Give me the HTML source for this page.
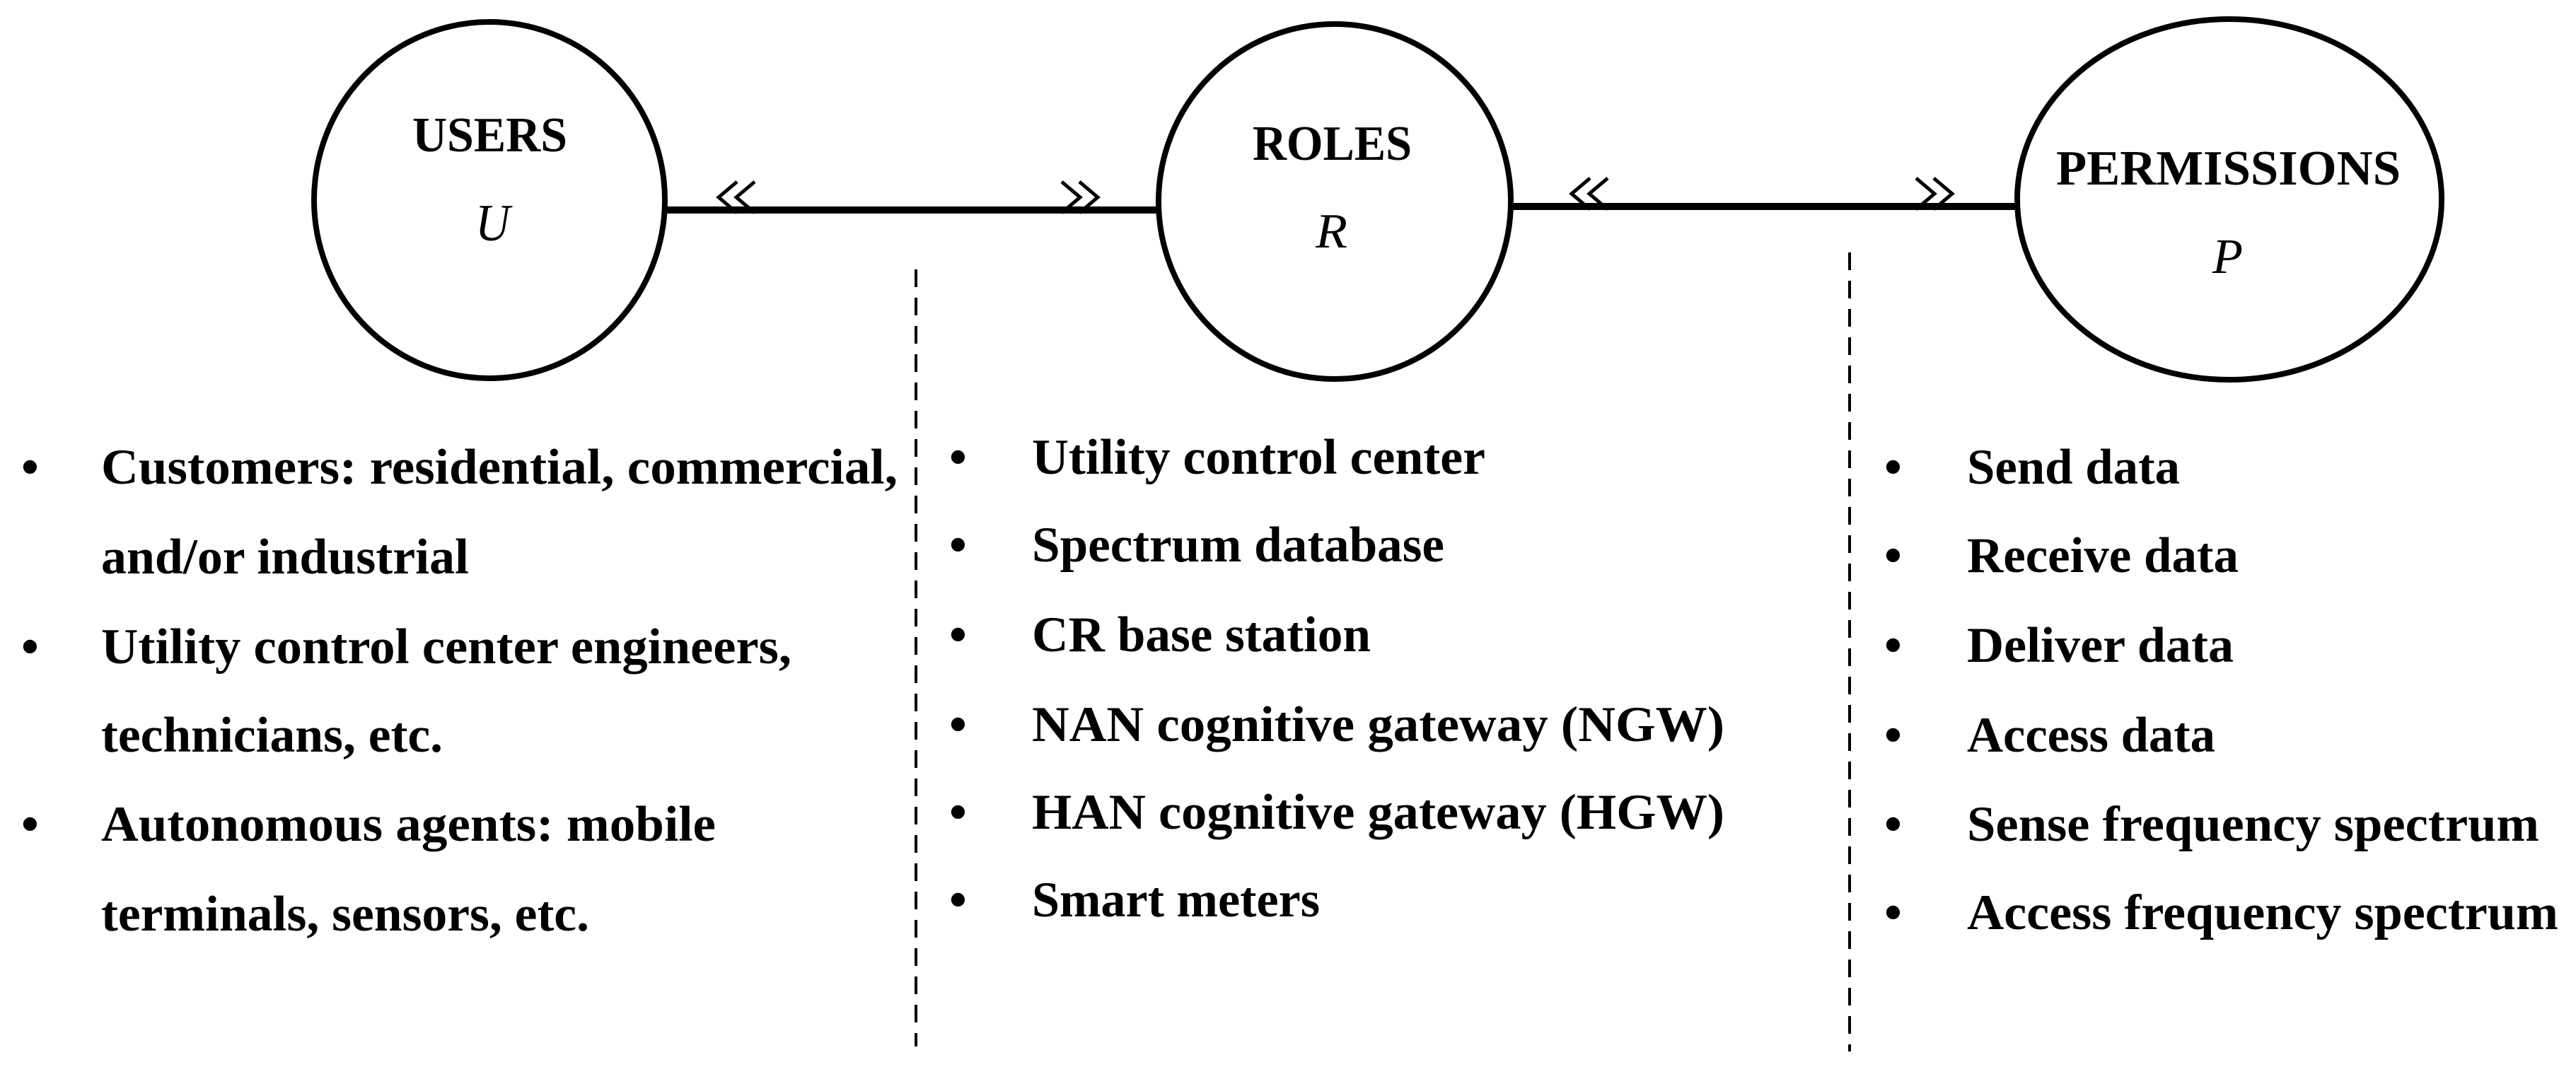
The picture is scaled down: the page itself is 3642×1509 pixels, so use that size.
<!DOCTYPE html>
<html><head><meta charset="utf-8"><style>
html,body{margin:0;padding:0;background:#fff;}
svg{display:block;}
text{font-family:"Liberation Serif",serif;fill:#000;}
.b{font-weight:bold;font-size:71px;}
.h{font-weight:bold;font-size:70px;}
</style></head><body>
<svg width="3642" height="1509" viewBox="0 0 3642 1509" xmlns="http://www.w3.org/2000/svg">
<g fill="none" stroke="#000">
<ellipse cx="692" cy="283" rx="248" ry="252" stroke-width="8"/>
<ellipse cx="1887" cy="285" rx="249" ry="251" stroke-width="8"/>
<ellipse cx="3152" cy="282" rx="300" ry="255" stroke-width="8"/>
<line x1="938" y1="297" x2="1638" y2="297" stroke-width="10"/>
<line x1="2136" y1="292" x2="2852" y2="292" stroke-width="10"/>
<g stroke-width="5">
<polyline points="1042,257 1016,279 1042,301"/>
<polyline points="1067,257 1041,279 1067,301"/>
<polyline points="1501,257 1527,279 1501,301"/>
<polyline points="1526,257 1552,279 1526,301"/>
<polyline points="2248,252 2222,274 2248,296"/>
<polyline points="2273,252 2247,274 2273,296"/>
<polyline points="2709,252 2735,274 2709,296"/>
<polyline points="2734,252 2760,274 2734,296"/>
</g>
<line x1="1295" y1="381" x2="1295" y2="1480" stroke-width="4" stroke-dasharray="25,15"/>
<line x1="2615" y1="357" x2="2615" y2="1487" stroke-width="4" stroke-dasharray="25,15"/>
</g>
<text class="h" x="583" y="214" textLength="219" lengthAdjust="spacingAndGlyphs">USERS</text>
<text x="672" y="340" font-size="74" font-style="italic" textLength="49" lengthAdjust="spacingAndGlyphs">U</text>
<text class="h" x="1771" y="226" textLength="225" lengthAdjust="spacingAndGlyphs">ROLES</text>
<text x="1860" y="350" font-size="70" font-style="italic" textLength="45" lengthAdjust="spacingAndGlyphs">R</text>
<text class="h" x="2907" y="261" textLength="487" lengthAdjust="spacingAndGlyphs">PERMISSIONS</text>
<text x="3128" y="386" font-size="70" font-style="italic" textLength="43" lengthAdjust="spacingAndGlyphs">P</text>

<g>
<text class="b" x="30" y="684">•</text>
<text class="b" x="30" y="938">•</text>
<text class="b" x="30" y="1189">•</text>
<text class="b" x="143" y="684" textLength="1126" lengthAdjust="spacingAndGlyphs">Customers: residential, commercial,</text>
<text class="b" x="143" y="811" textLength="520" lengthAdjust="spacingAndGlyphs">and/or industrial</text>
<text class="b" x="143" y="938" textLength="976" lengthAdjust="spacingAndGlyphs">Utility control center engineers,</text>
<text class="b" x="143" y="1063" textLength="483" lengthAdjust="spacingAndGlyphs">technicians, etc.</text>
<text class="b" x="143" y="1189" textLength="869" lengthAdjust="spacingAndGlyphs">Autonomous agents: mobile</text>
<text class="b" x="143" y="1316" textLength="690" lengthAdjust="spacingAndGlyphs">terminals, sensors, etc.</text>

<text class="b" x="1342" y="670">•</text>
<text class="b" x="1342" y="794">•</text>
<text class="b" x="1342" y="921">•</text>
<text class="b" x="1342" y="1048">•</text>
<text class="b" x="1342" y="1172">•</text>
<text class="b" x="1342" y="1296">•</text>
<text class="b" x="1459" y="670" textLength="641" lengthAdjust="spacingAndGlyphs">Utility control center</text>
<text class="b" x="1459" y="794" textLength="583" lengthAdjust="spacingAndGlyphs">Spectrum database</text>
<text class="b" x="1459" y="921" textLength="479" lengthAdjust="spacingAndGlyphs">CR base station</text>
<text class="b" x="1459" y="1048" textLength="979" lengthAdjust="spacingAndGlyphs">NAN cognitive gateway (NGW)</text>
<text class="b" x="1459" y="1172" textLength="979" lengthAdjust="spacingAndGlyphs">HAN cognitive gateway (HGW)</text>
<text class="b" x="1459" y="1296" textLength="407" lengthAdjust="spacingAndGlyphs">Smart meters</text>

<text class="b" x="2664" y="684">•</text>
<text class="b" x="2664" y="809">•</text>
<text class="b" x="2664" y="936">•</text>
<text class="b" x="2664" y="1063">•</text>
<text class="b" x="2664" y="1189">•</text>
<text class="b" x="2664" y="1314">•</text>
<text class="b" x="2781" y="684" textLength="301" lengthAdjust="spacingAndGlyphs">Send data</text>
<text class="b" x="2781" y="809" textLength="384" lengthAdjust="spacingAndGlyphs">Receive data</text>
<text class="b" x="2781" y="936" textLength="377" lengthAdjust="spacingAndGlyphs">Deliver data</text>
<text class="b" x="2781" y="1063" textLength="351" lengthAdjust="spacingAndGlyphs">Access data</text>
<text class="b" x="2781" y="1189" textLength="809" lengthAdjust="spacingAndGlyphs">Sense frequency spectrum</text>
<text class="b" x="2781" y="1314" textLength="836" lengthAdjust="spacingAndGlyphs">Access frequency spectrum</text>
</g>
</svg>
</body></html>
